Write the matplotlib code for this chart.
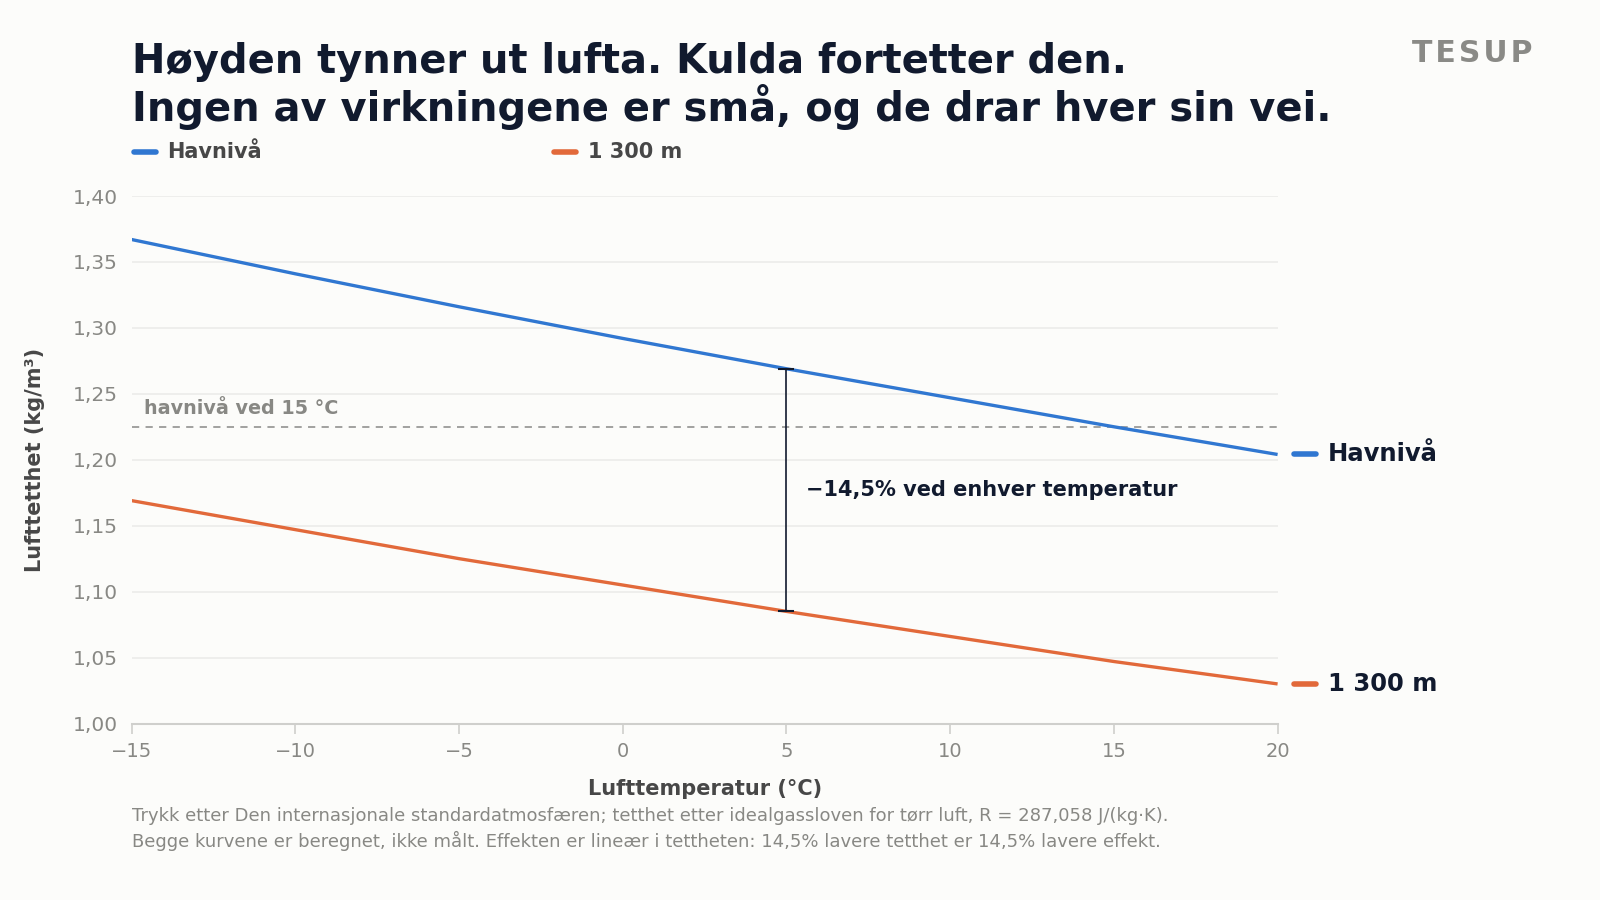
import matplotlib
matplotlib.use("Agg")
import matplotlib.pyplot as plt
from matplotlib.ticker import FuncFormatter
from matplotlib.lines import Line2D

# ---- data ----
temperature_c = [-15, -10, -5, 0, 5, 10, 15, 20]
density_sea_level = [1.367, 1.341, 1.316, 1.292, 1.269, 1.247, 1.225, 1.204]
density_1300m = [1.169, 1.147, 1.125, 1.105, 1.085, 1.066, 1.047, 1.030]
series_names = ["Havnivå", "1 300 m"]
reference_density = 1.225
reference_label = "havnivå ved 15 °C"
gap_temperature = 5
gap_label = "\u221214,5% ved enhver temperatur"
y_ticks = [1.00, 1.05, 1.10, 1.15, 1.20, 1.25, 1.30, 1.35, 1.40]
x_ticks = [-15, -10, -5, 0, 5, 10, 15, 20]

title_lines = ["Høyden tynner ut lufta. Kulda fortetter den.",
               "Ingen av virkningene er små, og de drar hver sin vei."]
footnote_lines = ["Trykk etter Den internasjonale standardatmosfæren; tetthet etter idealgassloven for tørr luft, R = 287,058 J/(kg·K).",
                  "Begge kurvene er beregnet, ikke målt. Effekten er lineær i tettheten: 14,5% lavere tetthet er 14,5% lavere effekt."]

# ---- style ----
BG = "#fcfcfa"
BLUE = "#3077d1"
ORANGE = "#e2693a"
NAVY = "#111a2e"
GRAY = "#888884"
DARK = "#474747"
plt.rcParams["font.family"] = ["DejaVu Sans"]

fig = plt.figure(figsize=(16, 9), dpi=100, facecolor=BG)
ax = fig.add_axes([131.6 / 1600, 1 - 723.5 / 900, (1277.6 - 131.6) / 1600, (723.5 - 196) / 900])
ax.set_facecolor(BG)

colors = [BLUE, ORANGE]
series = [density_sea_level, density_1300m]
for vals, col in zip(series, colors):
    ax.plot(temperature_c, vals, color=col, lw=2.4, solid_capstyle="butt", zorder=3)

ax.set_xlim(-15, 20)
ax.set_ylim(1.0, 1.4)
ax.set_xticks(x_ticks)
ax.set_yticks(y_ticks)
ax.yaxis.set_major_formatter(FuncFormatter(lambda v, p: f"{v:.2f}".replace(".", ",")))
ax.grid(axis="y", color="#ececea", lw=1.2, zorder=0)
ax.grid(axis="x", visible=False)
for s in ["top", "right", "left"]:
    ax.spines[s].set_visible(False)
ax.spines["bottom"].set_color("#cfcfcc")
ax.spines["bottom"].set_linewidth(1.5)
ax.tick_params(axis="y", length=0, pad=10, labelsize=14.5, labelcolor=GRAY)
ax.tick_params(axis="x", length=7, width=1.2, color="#cfcfcc", pad=6, labelsize=14, labelcolor=GRAY)

ax.set_xlabel("Lufttemperatur (°C)", fontsize=15, fontweight="bold", color=DARK, labelpad=13)
ax.set_ylabel("Lufttetthet (kg/m³)", fontsize=15, fontweight="bold", color=DARK, labelpad=20)

# reference line
ax.axhline(reference_density, color="#9a9a98", lw=1.3, ls=(0, (4, 3.5)), zorder=2)
ax.annotate(reference_label, xy=(x_ticks[0], reference_density), xytext=(9, 9),
            textcoords="offset points", fontsize=13.8, fontweight="bold", color=GRAY,
            ha="left", va="baseline")

# gap bracket
i5 = temperature_c.index(gap_temperature)
lo, hi = density_1300m[i5], density_sea_level[i5]
ax.plot([gap_temperature, gap_temperature], [lo, hi], color=NAVY, lw=1.2, zorder=4)
ax.plot([gap_temperature] * 2, [lo, hi], ls="none", marker="_", ms=12, mew=1.5, color=NAVY, zorder=4)
ax.annotate(gap_label, xy=(gap_temperature, (lo + hi) / 2), xytext=(14, 0),
            textcoords="offset points", fontsize=15, fontweight="bold", color=NAVY,
            ha="left", va="center")

# end labels
for vals, col, name in zip(series, colors, series_names):
    x0, y0 = ax.transData.transform((temperature_c[-1], vals[-1]))
    fx = lambda px: px / 1600
    fy = y0 / 900
    fig.add_artist(Line2D([fx(x0 + 16), fx(x0 + 38)], [fy, fy], color=col, lw=4,
                          solid_capstyle="round", transform=fig.transFigure))
    fig.text(fx(x0 + 50), fy, name, fontsize=17.5, fontweight="bold", color=NAVY,
             ha="left", va="center")

# title
fig.text(131.6 / 1600, 1 - 73 / 900, title_lines[0], fontsize=28.8, fontweight="bold",
         color=NAVY, ha="left", va="baseline")
fig.text(131.6 / 1600, 1 - 121.5 / 900, title_lines[1], fontsize=28.8, fontweight="bold",
         color=NAVY, ha="left", va="baseline")

# TESUP mark
fig.text(1532 / 1600, 1 - 54 / 900, "T\u200aE\u200aS\u200aU\u200aP", fontsize=21.5, fontweight="bold",
         color="#8a8a86", ha="right", va="center")

# legend
legend_x = [131.6, 552]
for lx, col, name in zip(legend_x, colors, series_names):
    fy = 1 - 152 / 900
    fig.add_artist(Line2D([(lx + 2) / 1600, (lx + 24) / 1600], [fy, fy], color=col, lw=4,
                          solid_capstyle="round", transform=fig.transFigure))
    fig.text((lx + 36) / 1600, fy, name, fontsize=15, fontweight="bold", color=DARK,
             ha="left", va="center")

# footnotes
fig.text(131.6 / 1600, 1 - 816 / 900, footnote_lines[0], fontsize=13, color=GRAY, ha="left", va="center")
fig.text(131.6 / 1600, 1 - 841 / 900, footnote_lines[1], fontsize=13, color=GRAY, ha="left", va="center")

fig.savefig("out.png", dpi=100, facecolor=BG)
